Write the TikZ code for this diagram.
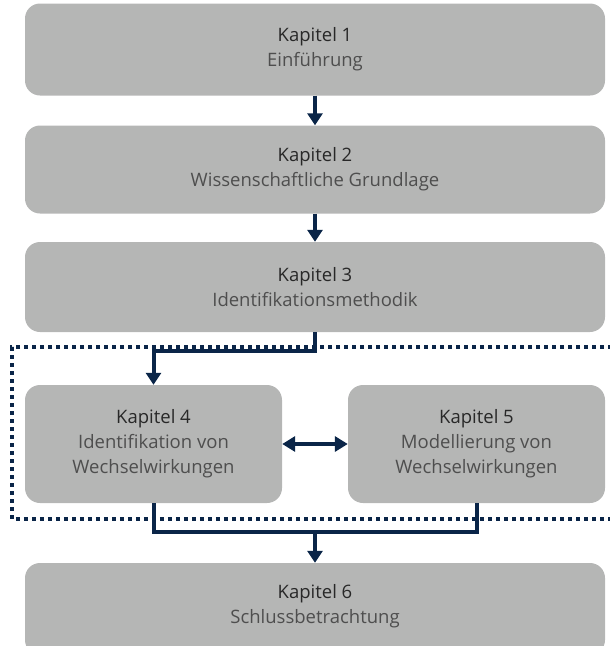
\documentclass[tikz,border=0pt]{standalone}
\usepackage{fontspec}
\setmainfont{Open Sans}
\usetikzlibrary{arrows.meta}

\definecolor{boxgray}{RGB}{181,182,181}
\definecolor{navy}{RGB}{10,37,72}
\definecolor{headgray}{RGB}{40,40,40}
\definecolor{subgray}{RGB}{78,78,78}

\tikzset{
  chapter/.style={fill=boxgray, rounded corners=15pt, align=center, inner sep=0pt,
    text=headgray, font=\fontsize{18.5}{25}\selectfont},
  link/.style={draw=navy, line width=4pt},
  arrow/.style={link, -{Triangle[width=15pt,length=12pt]}},
  twoway/.style={link, {Triangle[width=15pt,length=13pt]}-{Triangle[width=15pt,length=13pt]}},
  frame/.style={draw=navy, line width=3.6pt, dash pattern=on 3.6pt off 4.4pt}
}
\newcommand{\kapsub}[1]{\textcolor{subgray}{#1}}

\begin{document}
\begin{tikzpicture}[x=1pt,y=-1pt]
  \clip (0,0) rectangle (610,646);

  \node[chapter, minimum width=580pt, minimum height=92pt] (k1) at (315,49.5)
    {Kapitel 1\\\kapsub{Einführung}};
  \node[chapter, minimum width=580pt, minimum height=88pt] (k2) at (315,169.5)
    {Kapitel 2\\\kapsub{Wissenschaftliche Grundlage}};
  \node[chapter, minimum width=580pt, minimum height=90pt] (k3) at (315,287)
    {Kapitel 3\\\kapsub{Identifikationsmethodik}};
  \node[chapter, minimum width=257pt, minimum height=118pt] (k4) at (153.5,444)
    {Kapitel 4\\\kapsub{Identifikation von}\\\kapsub{Wechselwirkungen}};
  \node[chapter, minimum width=257pt, minimum height=118pt] (k5) at (476.5,444)
    {Kapitel 5\\\kapsub{Modellierung von}\\\kapsub{Wechselwirkungen}};
  \node[chapter, minimum width=580pt, minimum height=92pt, text depth=10pt] (k6) at (315,609)
    {Kapitel 6\\\kapsub{Schlussbetrachtung}};

  % Rahmen um Kapitel 4 und 5
  \draw[frame] (620,347) -- (12,347) -- (12,519) -- (620,519);

  \draw[arrow] (k1.south) -- (k2.north);
  \draw[arrow] (k2.south) -- (k3.north);
  \draw[arrow] (k3.south) -- ++(0,19) -| (k4.north);
  \draw[twoway] (k4.east) -- (k5.west);

  \coordinate (merge) at (315,532);
  \draw[link] (k4.south) |- (merge) -| (k5.south);
  \draw[arrow] (merge) -- (k6.north);
\end{tikzpicture}
\end{document}
